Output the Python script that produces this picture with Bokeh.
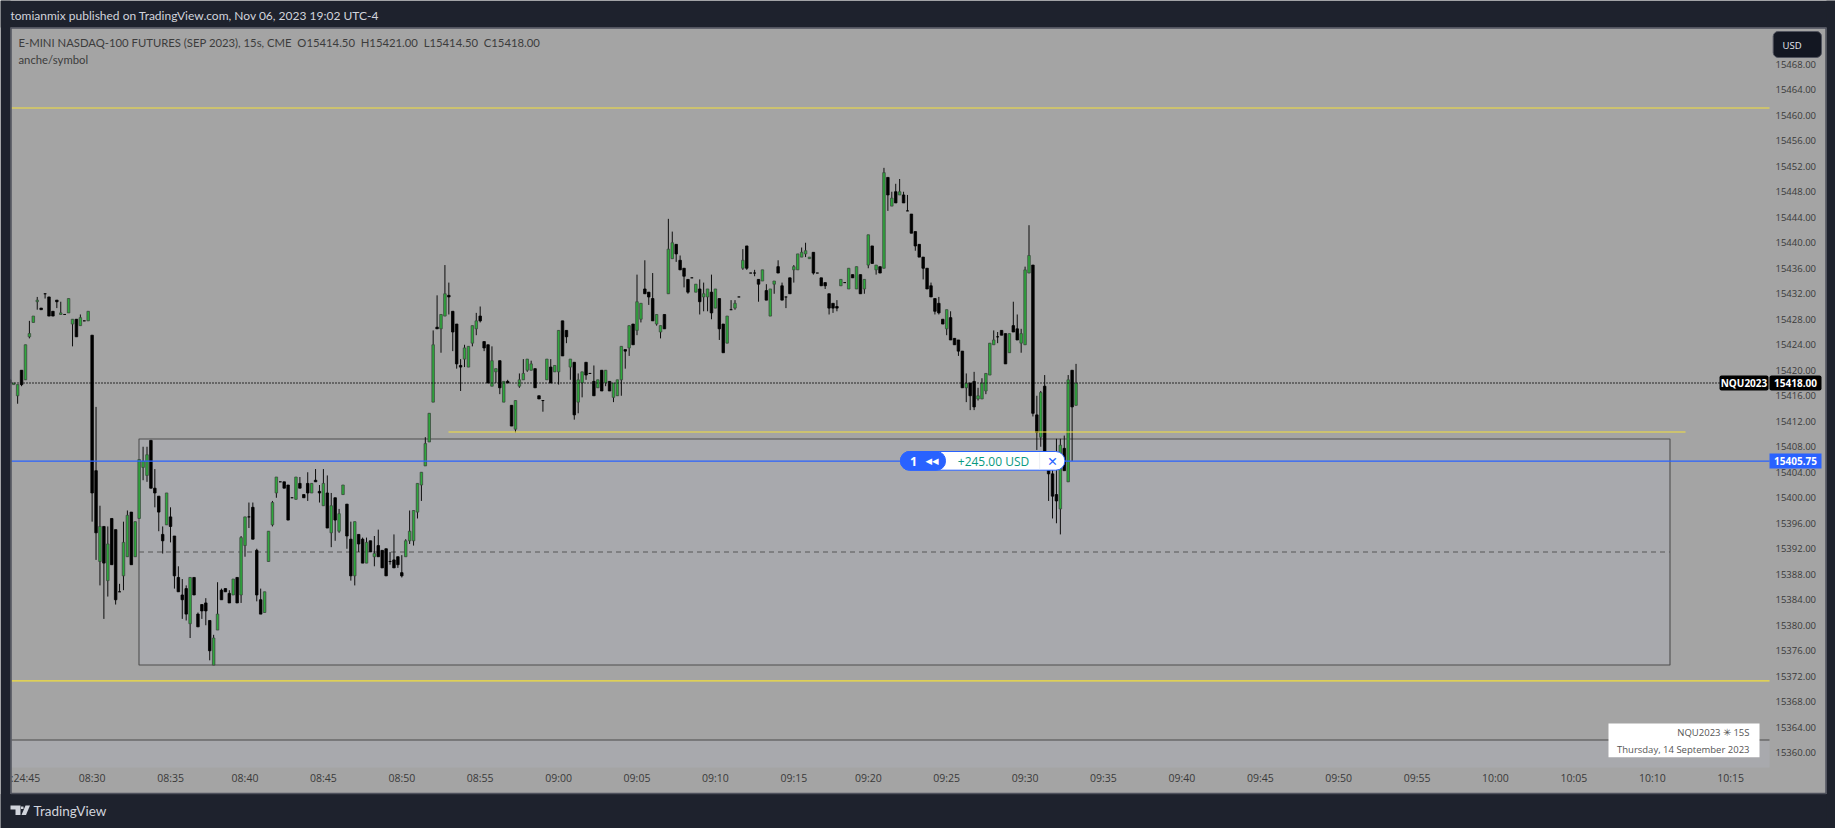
from bokeh.embed import file_html
from bokeh.models import (BoxAnnotation, ColumnDataSource, FixedTicker, Label,
                          NumeralTickFormatter, PolyAnnotation, Range1d)
from bokeh.plotting import figure
from bokeh.resources import INLINE

# ---- candle values: points above/below this base price -----------------
base_price = 15400
open_pts = [
 18.5,17.75,16,20,18.5,25.25,27.5,30.75,29.75,32,
 31.5,29.25,31,28.75,28.75,29,27.25,28,27,27.75,
 27.75,25.5,4.25,-10,-4.5,-13,-3.25,-5,-14.75,-12.25,
 -9.25,-2.25,-9.25,-3.25,4.75,3.5,9,1.5,.25,-5.75,
 -4.25,-3,-6,-12.5,-15.25,-14.25,-19.75,-12.5,-18.25,-16.75,
 -16.5,-19.25,-26.25,-20.75,-14.5,-14.25,-15,-15.25,-12.5,-15.25,
 -7.5,-3,-1.5,-8.25,-16,-18,-10,-4.25,.75,2.5,
 2.5,2,0,-.25,2.25,.5,2.25,.75,2.75,1,
 -1.25,.75,-5.5,0,-5.25,.5,-1,-6.5,-12.25,-5.75,
 -6.5,-10.25,-6.75,-9.25,-7.5,-8.25,-8,-10,-9.75,-9.25,
 -11.75,-9.25,-6.75,-6.75,-2.25,2,5,8.75,15,26.75,
 26.5,28.5,31.75,29.25,27.25,20.75,21.75,20.5,24.25,26.5,
 28.5,24.5,24,17.5,19.75,21.5,15,18.25,14.5,10.75,
 17.5,18.5,20,20,20.25,16,15.25,18.5,20.5,19.75,
 19.75,27.75,26.25,20.5,21.25,15,18,21.25,19.5,18.25,
 17.25,20,18,18.25,15.75,16,18.5,23.25,23.5,27.25,
 26.25,28,32.75,32.25,31.25,27.25,26,28.75,32,37.5,
 39.75,37.25,36,34.25,34.5,32.25,32.75,31.5,31.5,32.25,
 29.75,31.25,27.25,24.25,29.5,29.75,31.5,36,39.5,35.25,
 35.25,34.25,34,32.5,28.5,33.5,36.25,33.25,31.5,34.5,
 35.75,35.75,37.75,38.25,37.5,38.5,35.25,34.5,33.75,32,
 30.5,30,33.25,33.75,32.75,35,32.75,35,32.75,36.5,
 39.5,35.75,36.25,36,50.25,45.75,48,47.5,47.5,45,
 44.5,41.75,39.75,37.75,36,33.25,31.25,30.5,28,26.5,
 28.25,25,24.75,23,17.25,18,18.25,15.5,15.5,16.75,
 19.25,24,25.25,26.25,25.75,22.75,27,26.5,24.25,24,
 35.25,36.5,13,9.5,17.5,6.5,3.75,.5,-1.75,7.75,
 2.5,20,14.5]
high_pts = [
 18.5,18,17.75,20,24,27.75,28.5,31.5,29.75,32,
 31.5,29.25,31,30.75,28.75,31.25,28,28,28.75,27.75,
 29.25,25.5,14.25,-1.25,-4.5,-4.5,-3.25,-5,-13.5,-3.75,
 -2,-2.25,-3.75,6,8,8,9,4.5,.25,-4.5,
 .75,-1.5,-6,-10.75,-12.75,-13.75,-12.5,-12.5,-18,-16.75,
 -15.75,-19.25,-21.5,-13.25,-14.25,-14.25,-14.5,-12.75,-12.5,-6,
 -3,-.75,-.75,-8,-14.25,-14.75,-5.25,-.5,3.25,2.5,
 2.5,2,0,3.25,3.25,.5,4,2.25,4.5,2,
 4.5,3.5,.75,0,-1.75,2,-1,-3.75,-3.75,-5.75,
 -6.25,-6.25,-6.75,-6,-5,-8.25,-8,-8.5,-5.75,-9.25,
 -9,-6.5,-2,-2,2.25,4,9.5,13.25,26.25,31.75,
 28.75,36.5,33.75,29.25,27.25,21.75,24,23.75,27,29,
 30,24.5,24,23.75,20.25,21.5,18.25,18.5,14.5,15.25,
 19.5,21.75,21.75,21.5,20.25,16,15.25,21.75,21.75,20.75,
 26.25,27.75,26.25,21.75,21.25,19.5,19.75,21.25,19.5,20.75,
 18.5,20,20,18.25,18,18.5,23.75,23.25,27,27.25,
 35,30.5,37.25,32.25,35.25,28.75,27,28.75,43.75,41.75,
 39.75,38,36,34.25,34.5,33.5,34.25,33.75,32.75,35,
 32.75,31.25,27.25,28.5,31,31,31.5,39,39.5,35.25,
 35.75,34.25,35.75,33.5,32.75,34,37.25,33.75,31.5,34.5,
 36.5,38.25,39.25,40,37.75,38.5,35.25,34.5,33.75,32,
 30.5,31,34.25,33.75,36,35,36.25,35,34.25,41.25,
 39.5,36.5,36.25,51.75,50.25,48,49.25,50,48,47.5,
 44.5,41.75,39.75,37.75,36,33.75,31.25,31.5,28,29.5,
 29.25,25,24.75,23,19.5,18,19.75,17.25,18.75,19.5,
 24.25,26.25,26,26.25,25.75,25.75,30.75,28.75,26.5,36.25,
 42.75,36.5,16,16.75,19.25,6.5,6.5,9.25,9.25,9.75,
 19.25,20,21]
low_pts = [
 18,17.75,14.75,17.5,18.5,25,27.5,29.5,29.5,31.25,
 28.5,28.5,29.75,28.75,28.75,29,23.75,25.25,27,27.75,
 27.75,-3.75,-9.75,-13.75,-19,-15.5,-10.5,-16.75,-14.75,-14.5,
 -9.25,-10.5,-9.25,-3.25,2.75,2.5,1.5,-1.5,-5.25,-8.75,
 -4.25,-7,-14.25,-14.75,-19,-19.25,-22,-15.25,-20.25,-19,
 -20,-25.5,-26.25,-20.75,-16,-14.75,-16.5,-15.25,-16.5,-16.5,
 -9.25,-4.75,-6.5,-16.25,-18.25,-18,-10,-4.5,0,2.5,
 1.5,-3.5,0,-.25,1.5,0,-.5,.75,2.5,-.75,
 -1.25,-4.75,-7.75,-6.75,-5.5,.5,-8,-13,-13.75,-8.5,
 -10.25,-10.25,-8.5,-10.75,-9.25,-11,-12.25,-10.5,-11,-11,
 -12.5,-9.25,-7.25,-7.5,-3.25,-.5,5,8.75,15,26.5,
 22.75,28.5,28.75,23,20.25,16.75,20.5,20.5,23.75,25.5,
 27.5,23,18,17.5,18,16.25,15,18,11.25,10.25,
 17.25,18.5,19.75,20,17.25,15.5,13.5,18.5,18,19.75,
 17.75,22.25,24.25,18.5,12.25,13.25,15.75,18.5,19.5,16,
 17.25,16.75,17.5,16.75,15,16,16,20.25,22.25,24,
 25.5,27.5,32,30.25,27.75,27,25,26.5,32,37.5,
 37,35.75,33,32,34.5,32.25,28.75,29.25,29.25,28,
 29.75,24.75,22.75,24.25,29.5,29.5,31.5,35.75,35.75,35.25,
 34.75,30.75,34,31,28.5,32,35.25,31,29.75,32,
 33.75,35.75,37.75,37.75,37.5,35,35.25,33.25,32.75,28.75,
 29,29.25,33.25,33.75,32.75,34.5,32.75,32,32,36,
 36.75,35,35.25,36,45,45.75,46.25,47.5,46.25,45,
 41.5,38.75,37.75,34.25,32.75,31.5,28.75,28.75,27.25,25.5,
 24.75,24,22.25,17.25,15,13.75,13.75,15.25,15.5,16.25,
 19.25,24,24.25,25.5,21,22.75,26,24.75,22.75,24,
 35.25,12.75,7.5,8,6.5,-.5,-3.25,-4,-5.75,4.25,
 2.5,5.75,14.5]
close_pts = [
 18,18,17.75,17.75,24,25.75,28.5,31,29.5,32,
 28.5,28.5,30.75,29,28.75,31.25,28,25.25,28.25,27.75,
 29.25,.75,-5.5,-4.5,-10.25,-7.25,-10.5,-16,-14.75,-7,
 -2.75,-10.5,-3.75,6,5.75,6.75,1.5,.75,-2.25,-6.75,
 .75,-4.5,-12.25,-14.75,-16,-18.25,-12.5,-15.25,-20.25,-17.75,
 -17.75,-24,-22,-18.25,-16,-14.75,-16.5,-12.75,-16.5,-6.25,
 -3,-3,-6.5,-15.25,-18.25,-14.75,-5.25,-.75,3.25,2.5,
 1.5,-3.5,0,3.25,1.5,0,.75,2.25,2.5,.75,
 2.25,-4.75,-1.25,-3.5,-2.5,2,-6,-12.25,-3.75,-7.25,
 -10.25,-7,-8.5,-8.75,-9.25,-11,-12.25,-10,-11,-10.5,
 -12.25,-6.75,-5.25,-2,2.25,4,8.5,13.25,24,26.5,
 28.75,32,31.5,26,21,20.5,23.5,23.75,27,27.75,
 27.75,23.5,18,21.5,20.25,17.25,18.25,18,11.25,15.25,
 18.5,19.5,21.75,21,17.25,15.5,15.25,21.75,18,20.75,
 26.25,22.25,25.25,21.75,13,18.5,19.75,19.25,19.5,16,
 18.5,16.75,20,16.75,18,18.5,23.75,23,27,24,
 30.75,30.5,32,31.5,27.75,28.75,27,26.5,39,40,
 38.25,35.75,34.75,32.25,34.5,33.5,30.75,32,32.75,29,
 32.75,26.5,22.75,28.5,29.5,30.5,31.5,37.25,36,35.25,
 35.25,33.5,35.75,31,32.75,34,35.25,31,31.5,32,
 36.25,38.25,38.5,38.75,37.75,35.25,35.25,33.25,33.25,29.75,
 29.75,29.75,34.25,33.75,36,34.5,36.25,32,34.25,41.25,
 36.75,36.5,35.25,51,47.5,47,46.25,48,46.25,45,
 41.5,39.5,37.75,36,32.75,31.5,29.25,29,27.25,29.5,
 24.75,24,23,17.25,18,16,14.25,16,18,19.5,
 24.25,24.75,25.25,25.5,21,25.75,26,24.75,25.75,35.75,
 38,13.25,10.25,16.5,6.5,3.75,.25,-.5,8.25,4.25,
 18.5,14.25,18]
assert len(open_pts) == len(high_pts) == len(low_pts) == len(close_pts)

# bar numbers on the time axis (TradingView's axis counts bars, not seconds)
time_tick_bars = [4, 21, 41, 60, 80, 100, 120, 140, 160, 180, 200, 219, 239, 259,
                  279, 299, 319, 339, 359, 379, 399, 419, 439]
time_tick_labels = [":24:45", "08:30", "08:35", "08:40", "08:45", "08:50", "08:55",
                    "09:00", "09:05", "09:10", "09:15", "09:20", "09:25", "09:30",
                    "09:35", "09:40", "09:45", "09:50", "09:55", "10:00", "10:05",
                    "10:10", "10:15"]
price_ticks = [15360 + 4 * k for k in range(28)]

last_price = 15418.0
position_price = 15405.75
upper_level = 15461.14
lower_level = 15371.26
mid_level = 15410.31
box_top = 15409.22
box_bottom = 15373.77
box_mid = 15391.49
floor_level = 15362.0

# ---- page geometry -----------------------------------------------------
PAGE_BG = "#1e222d"
PANE_BG = "#a4a4a4"
BOX_BG = "#a8a9ad"
EDGE = "#4f525d"
DARK_TEXT = "#3a3a3a"
UI_FONT = "Open Sans"
HEAD_FONT = "Lato"


def fx(px):
    """reference pixel column -> bar number"""
    return (px - 9.3) / 3.92


def fy(py):
    """reference pixel row -> price"""
    return last_price - (py - 382.5) / 6.375


# the frame fills the page; both axes sit at a fixed place inside it
p = figure(width=1835, height=828, output_backend="svg", toolbar_location=None,
           x_range=Range1d(fx(0), fx(1835)), y_range=Range1d(fy(828), fy(0)),
           y_axis_location="right", min_border=0,
           background_fill_color=PANE_BG, border_fill_color=PANE_BG,
           outline_line_color=None, tools="")
p.grid.visible = False

for axis in (p.xaxis[0], p.yaxis[0]):
    axis.axis_line_color = None
    axis.major_tick_line_color = None
    axis.minor_tick_line_color = None
    axis.major_label_text_color = DARK_TEXT
    axis.major_label_text_font = UI_FONT
p.yaxis[0].major_label_text_font_size = "9.5px"
p.xaxis[0].major_label_text_font_size = "10.5px"
p.yaxis[0].ticker = FixedTicker(ticks=price_ticks)
p.yaxis[0].formatter = NumeralTickFormatter(format="0.00")
p.yaxis[0].major_label_standoff = 8
p.yaxis[0].fixed_location = fx(1761)
p.xaxis[0].ticker = FixedTicker(ticks=time_tick_bars)
p.xaxis[0].major_label_overrides = dict(zip(time_tick_bars, time_tick_labels))
p.xaxis[0].major_label_standoff = 7
p.xaxis[0].fixed_location = fy(757)

# drawings behind the candles
right_edge = fx(1769)
left_edge = fx(11)
p.quad(left=[left_edge], right=[right_edge], top=[floor_level], bottom=[fy(767)],
       fill_color=BOX_BG, line_color=None)
p.segment(x0=[left_edge], x1=[right_edge], y0=[floor_level], y1=[floor_level],
          line_color="#4a4a4a", line_width=1.1)
p.quad(left=[fx(138.5)], right=[fx(1669.5)], top=[box_top], bottom=[box_bottom],
       fill_color=BOX_BG, line_color="#4f4f4f", line_width=1.1)
p.segment(x0=[fx(138.5)], x1=[fx(1669.5)], y0=[box_mid], y1=[box_mid],
          line_color="#565656", line_width=1, line_dash="5 4")

# candles
opens = [base_price + v for v in open_pts]
highs = [base_price + v for v in high_pts]
lows = [base_price + v for v in low_pts]
closes = [base_price + v for v in close_pts]
bars = list(range(len(opens)))
rising = [c > o for o, c in zip(opens, closes)]
src = ColumnDataSource(dict(
    x=bars, high=highs, low=lows,
    top=[max(o, c) for o, c in zip(opens, closes)],
    bottom=[min(o, c) for o, c in zip(opens, closes)],
    fill=["#2ea83c" if r else "#000000" for r in rising],
    edge=["#3d4a40" if r else "#000000" for r in rising],
))
p.segment(x0="x", x1="x", y0="low", y1="high", source=src, line_color="#0c0c0c", line_width=1)
p.vbar(x="x", width=0.64, top="top", bottom="bottom", source=src,
       fill_color="fill", line_color="edge", line_width=0.8)

# horizontal levels on top of the candles
YELLOW = "#f3df3c"
for level, x0, x1, colour, width, dash in [
    (upper_level, left_edge, right_edge, YELLOW, 1.2, "solid"),
    (lower_level, left_edge, right_edge, YELLOW, 1.2, "solid"),
    (mid_level, fx(448), fx(1685), YELLOW, 1.2, "solid"),
    (position_price, left_edge, right_edge, "#2962ff", 1.1, "solid"),
    (last_price, left_edge, fx(1719), "#000000", 1.5, "1 2"),
]:
    p.segment(x0=[x0], x1=[x1], y0=[level], y1=[level], line_color=colour,
              line_width=width, line_dash=dash)


def box(x0, x1, y0, y1, fill, edge=None, radius=0, width=1, alpha=1):
    p.add_layout(BoxAnnotation(left=fx(x0), right=fx(x1), top=fy(y0), bottom=fy(y1),
                               fill_color=fill, fill_alpha=alpha, line_color=edge,
                               line_alpha=1, line_width=width, border_radius=radius,
                               level="overlay"))


def label(px, py, text, size, colour, align="left", style="normal", font=UI_FONT):
    p.add_layout(Label(x=fx(px), y=fy(py), text=text, text_font=font,
                       text_font_size=f"{size}px", text_color=colour, text_align=align,
                       text_baseline="middle", text_font_style=style, level="overlay"))


# dark page chrome round the grey panel
box(0, 1835, 0, 27, PAGE_BG)
box(0, 1835, 793.5, 828, PAGE_BG)
box(0, 10, 0, 828, PAGE_BG)
box(1826, 1835, 0, 828, PAGE_BG)
box(10.5, 1825.5, 27.5, 793, "#000000", EDGE, 0, 1.5, 0)

# header and footer
label(10, 15, "tomianmix published on TradingView.com, Nov 06, 2023 19:02 UTC-4", 12,
      "#d1d4dc", font=HEAD_FONT)
label(18, 41.5, "E-MINI NASDAQ-100 FUTURES (SEP 2023), 15s, CME\u00a0\u00a0O15414.50\u00a0\u00a0H15421.00\u00a0\u00a0L15414.50\u00a0\u00a0C15418.00",
      11.3, "#3c3c3c", font=HEAD_FONT)
label(18, 59, "anche/symbol", 11.3, "#3c3c3c", font=HEAD_FONT)
label(33, 810.5, "TradingView", 13.5, "#d1d4dc", font=HEAD_FONT)
for shape in ([(10, 805), (20, 805), (20, 814.5), (15, 814.5), (15, 809), (10, 809)],
              [(20.5, 806), (23, 806), (23, 808.5), (20.5, 808.5)],
              [(25, 805), (29.5, 805), (25.5, 814.5), (21, 814.5)]):
    p.add_layout(PolyAnnotation(xs=[fx(a) for a, _ in shape], ys=[fy(b) for _, b in shape],
                                fill_color="#d1d4dc", fill_alpha=1, line_color=None,
                                level="overlay"))

# currency button
box(1772.7, 1821, 31, 57, "#131722", "#50535e", 5, 1)
label(1782, 44.5, "USD", 9.5, "#e6e8ee")

# price tags
box(1719, 1768, 375, 390, "#000000", None, 2)
label(1743.5, 382.5, "NQU2023", 10, "#ffffff", "center", "bold")
box(1769, 1821, 375, 390, "#000000", None, 2)
label(1795, 382.5, "15418.00", 10, "#ffffff", "center", "bold")
box(1769, 1821, 453, 468, "#2962ff", None, 0)
label(1795, 460.6, "15405.75", 10, "#ffffff", "center", "bold")

# position pill
box(900, 1064.3, 451, 469.7, "#ffffff", "#2962ff", 9, 1)
box(900, 945, 451, 469.7, "#2962ff", "#2962ff", 9, 1)
box(1039, 1039.6, 452, 469, "#dfe3ee")
label(913, 460.5, "1", 12.5, "#ffffff", "center", "bold")
label(931.5, 460.5, "\u25c0\u25c0", 8.5, "#ffffff", "center", font="DejaVu Sans")
label(993, 460.5, "+245.00 USD", 12, "#089981", "center")
label(1052, 460.5, "\u2715", 12.5, "#2962ff", "center", font="DejaVu Sans")

# symbol/date card
box(1608, 1759, 723, 756.7, "#ffffff")
label(1749, 731.5, "NQU2023 \u2733 15S", 9.5, "#555555", "right")
label(1749, 748.5, "Thursday, 14 September 2023", 9.5, "#555555", "right")

html = file_html(p, INLINE)
html = html.replace("<body>", f'<body style="background:{PAGE_BG};overflow:hidden;margin:0">', 1)
open("out.html", "w").write(html)
